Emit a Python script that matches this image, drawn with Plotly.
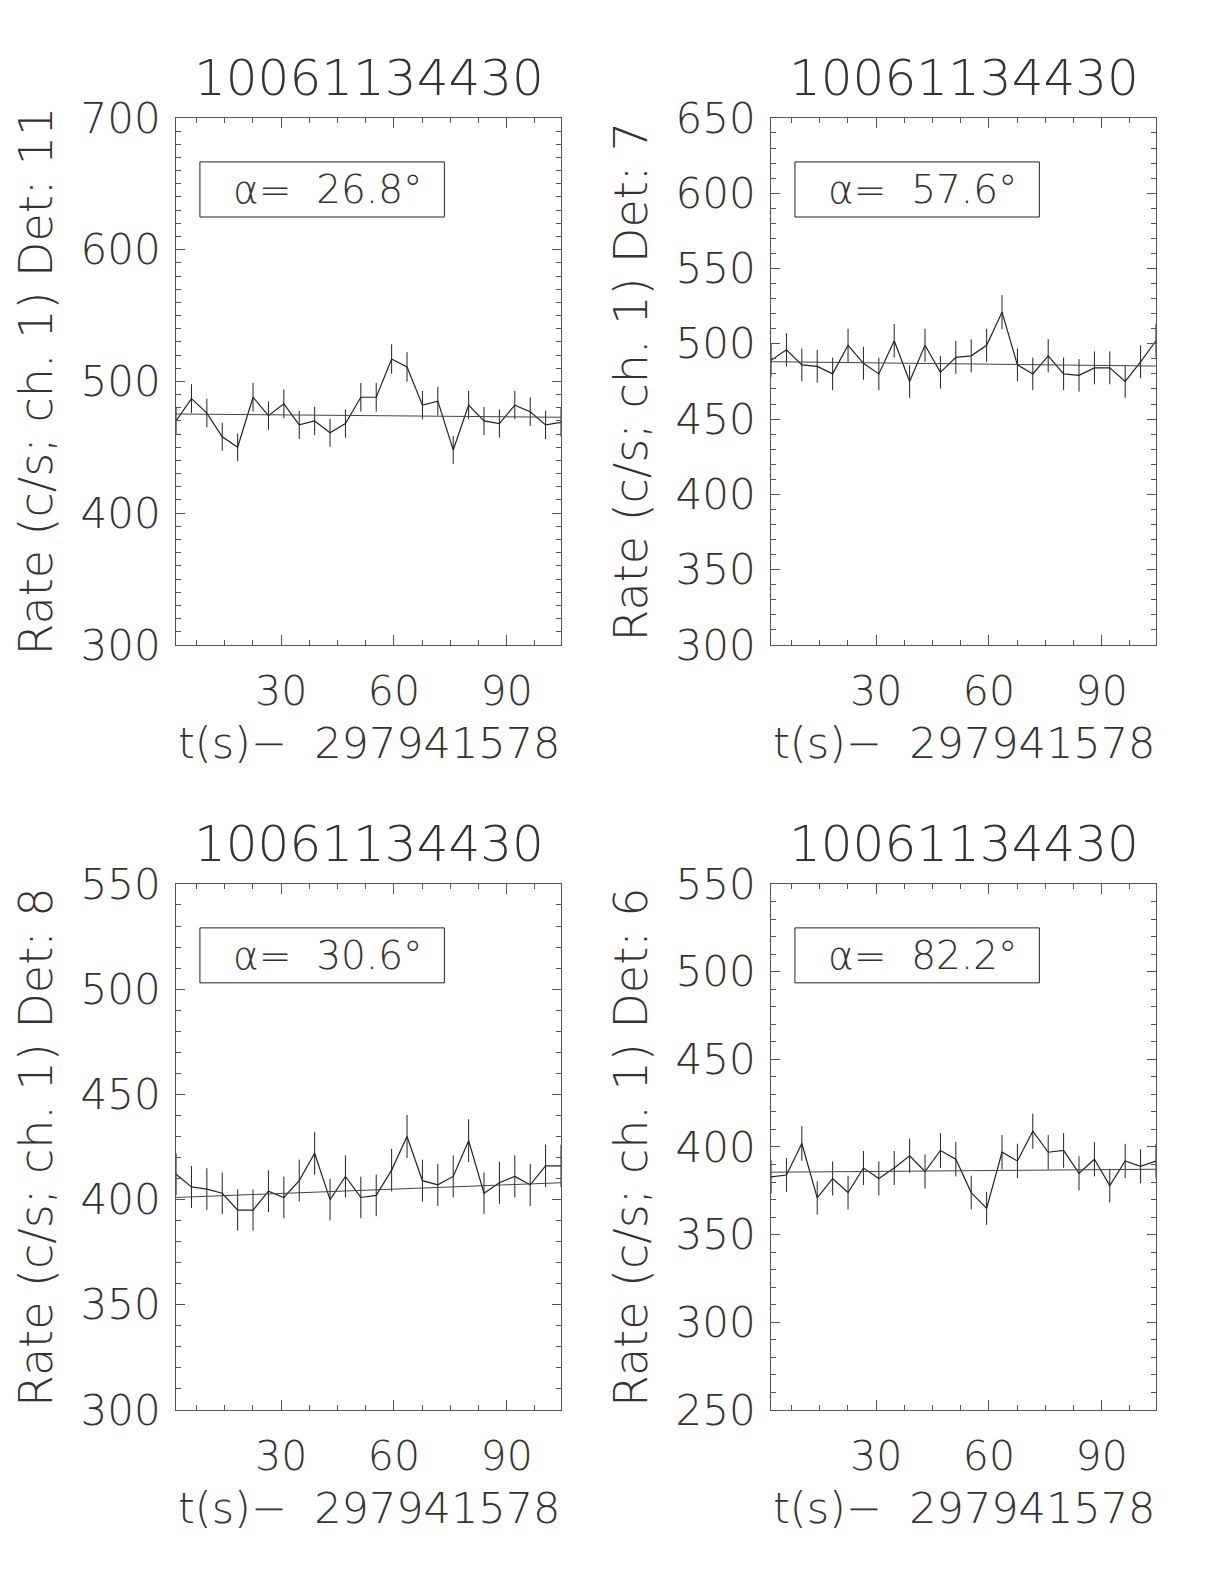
import plotly.graph_objects as go

# time bins (s) relative to 297941578
t = [2.048, 6.144, 10.24, 14.336, 18.432, 22.528, 26.624, 30.72, 34.816, 38.912,
     43.008, 47.104, 51.2, 55.296, 59.392, 63.488, 67.584, 71.68, 75.776, 79.872,
     83.968, 88.064, 92.16, 96.256, 100.352, 104.448]

obs_id = "10061134430"
t0_label = "297941578"

dets = [11, 7, 8, 6]
alphas = [26.8, 57.6, 30.6, 82.2]

rate_11 = [470, 487, 476, 458, 450, 488, 474, 483, 467, 470, 461, 468, 488,
           488, 517, 511, 482, 485, 448, 482, 470, 468, 482, 477, 467, 469]
err_11 = [10.7, 10.9, 10.8, 10.6, 10.5, 10.9, 10.8, 10.9, 10.7, 10.7, 10.6, 10.7, 10.9,
          10.9, 11.2, 11.2, 10.8, 10.9, 10.5, 10.8, 10.7, 10.7, 10.8, 10.8, 10.7, 10.7]

rate_7 = [489, 496, 486, 485, 480, 499, 487, 480, 502, 475, 499, 481, 491,
          492, 499, 521, 486, 480, 492, 480, 479, 484, 484, 475, 488, 502]
err_7 = [10.9, 11.0, 10.9, 10.9, 10.8, 11.0, 10.9, 10.8, 11.1, 10.8, 11.0, 10.8, 10.9,
         11.0, 11.0, 11.3, 10.9, 10.8, 11.0, 10.8, 10.8, 10.9, 10.9, 10.8, 10.9, 11.1]

rate_8 = [412, 406, 405, 403, 395, 395, 404, 401, 409, 422, 400, 411, 401,
          402, 414, 430, 409, 407, 411, 428, 403, 408, 411, 407, 416, 416]
err_8 = [10.0, 10.0, 9.9, 9.9, 9.8, 9.8, 9.9, 9.9, 10.0, 10.2, 9.9, 10.0, 9.9,
         9.9, 10.1, 10.2, 10.0, 10.0, 10.0, 10.2, 9.9, 10.0, 10.0, 10.0, 10.1, 10.1]

rate_6 = [383, 384, 402, 371, 382, 374, 388, 382, 388, 395, 386, 398, 393,
          374, 365, 397, 392, 409, 397, 398, 385, 393, 378, 392, 389, 392]
err_6 = [9.7, 9.7, 9.9, 9.5, 9.7, 9.6, 9.7, 9.7, 9.7, 9.8, 9.7, 9.9, 9.8,
         9.6, 9.4, 9.8, 9.8, 10.0, 9.8, 9.9, 9.7, 9.8, 9.6, 9.8, 9.7, 9.8]

rates = [rate_11, rate_7, rate_8, rate_6]
errs = [err_11, err_7, err_8, err_6]

# linear background fit, value at first and last bin
fit_start = [475.3, 488.1, 401.0, 385.6]
fit_end = [472.8, 485.2, 408.0, 387.3]

y_ranges = [[300, 700], [300, 650], [300, 550], [250, 550]]
y_dticks = [100, 50, 50, 50]

FONT = "DejaVu Sans ExtraLight, DejaVu Sans, sans-serif"
INK = "#222222"
TXT = "#333333"
AXC = "#555555"

# page body has an 8px margin, domains are shifted to compensate
x_domains = [[0.1373, 0.4518], [0.6234, 0.9379], [0.1373, 0.4518], [0.6234, 0.9379]]
y_domains = [[0.5979, 0.9306], [0.5979, 0.9306], [0.1149, 0.4470], [0.1149, 0.4470]]

fig = go.Figure()
layout = {}
annotations = []
shapes = []

for i in range(4):
    n = "" if i == 0 else str(i + 1)
    xa, ya = "x" + n, "y" + n

    fig.add_trace(go.Scatter(
        x=t, y=rates[i], mode="lines", xaxis=xa, yaxis=ya,
        line=dict(color=INK, width=1.2),
        error_y=dict(type="data", array=errs[i], visible=True,
                     color=INK, thickness=1, width=0),
        showlegend=False,
    ))
    fig.add_trace(go.Scatter(
        x=[t[0], t[-1]], y=[fit_start[i], fit_end[i]], mode="lines",
        xaxis=xa, yaxis=ya, line=dict(color="#444444", width=1),
        showlegend=False,
    ))

    layout["xaxis" + n] = dict(
        domain=x_domains[i], anchor=ya, range=[t[0], t[-1]],
        tickmode="array", tickvals=[30, 60, 90], ticks="inside", ticklen=10,
        tickcolor=AXC, showline=True, linecolor=AXC, linewidth=1, mirror="ticks",
        showgrid=False, zeroline=False, ticklabelstandoff=10,
        tickfont=dict(family=FONT, size=41, color=TXT, weight=200),
        minor=dict(dtick=7.5, tick0=0, ticks="inside", ticklen=5, tickcolor=AXC),
    )
    layout["yaxis" + n] = dict(
        domain=y_domains[i], anchor=xa, range=y_ranges[i],
        dtick=y_dticks[i], tick0=0, ticks="inside", ticklen=9,
        tickcolor=AXC, showline=True, linecolor=AXC, linewidth=1, mirror="ticks",
        showgrid=False, zeroline=False, ticklabelstandoff=6,
        tickfont=dict(family=FONT, size=42, color=TXT, weight=200),
        minor=dict(dtick=10, tick0=0, ticks="inside", ticklen=5, tickcolor=AXC),
    )

    dom_x = xa + " domain"
    dom_y = ya + " domain"
    # panel title
    annotations.append(dict(
        text=obs_id, xref=dom_x, yref=dom_y, x=0.5, y=1, yshift=40,
        xanchor="center", yanchor="middle", showarrow=False,
        font=dict(family=FONT, size=50, color=TXT, weight=200),
    ))
    # y title
    annotations.append(dict(
        text=f"Rate (c/s; ch. 1) Det: {dets[i]}", xref=dom_x, yref=dom_y,
        x=0, y=0.5, xshift=-140, textangle=-90,
        xanchor="center", yanchor="middle", showarrow=False,
        font=dict(family=FONT, size=46, color=TXT, weight=200),
    ))
    # x title
    annotations.append(dict(
        text=f"t(s)\u2212  {t0_label}", xref=dom_x, yref=dom_y,
        x=0.5, y=0, yshift=-98,
        xanchor="center", yanchor="middle", showarrow=False,
        font=dict(family=FONT, size=43, color=TXT, weight=200),
    ))
    # alpha box
    shapes.append(dict(
        type="rect", xref=dom_x, yref=dom_y, x0=0.062, x1=0.697, y0=0.812, y1=0.9165,
        line=dict(color=INK, width=1), fillcolor="rgba(0,0,0,0)",
    ))
    annotations.append(dict(
        text=f"\u03b1=  {alphas[i]:.1f}\u00b0", xref=dom_x, yref=dom_y,
        x=0.395, y=0.864, xanchor="center", yanchor="middle", showarrow=False,
        font=dict(family=FONT, size=39, color=TXT, weight=200),
    ))

fig.update_layout(
    width=1224, height=1584,
    margin=dict(l=0, r=0, t=0, b=0, autoexpand=False),
    paper_bgcolor="white", plot_bgcolor="white",
    annotations=annotations, shapes=shapes,
    **layout,
)

fig.write_html("out.html")
